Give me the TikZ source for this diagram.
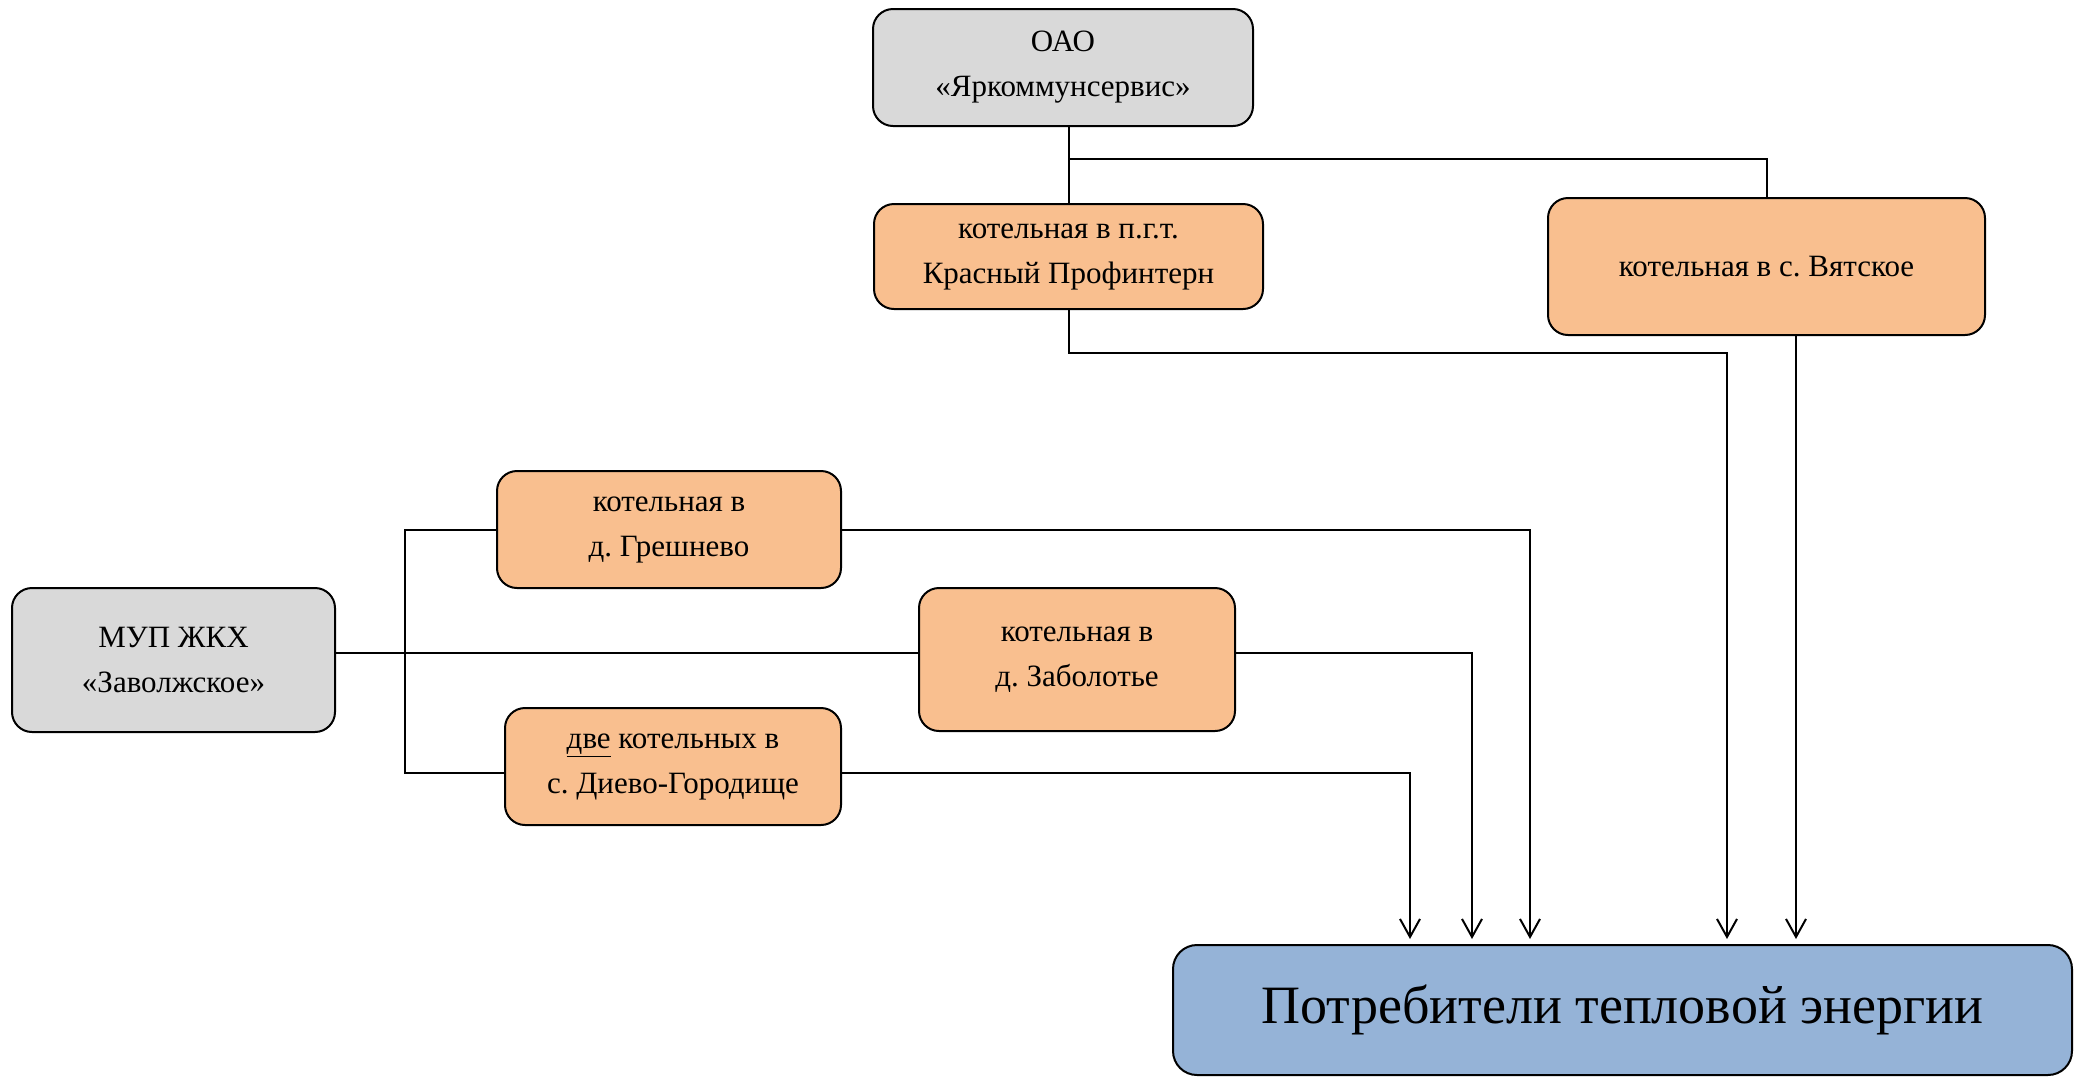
\documentclass[tikz,border=0pt]{standalone}
\usepackage{fontspec}
\setmainfont{Liberation Serif}
\usetikzlibrary{arrows.meta}
\definecolor{grayfill}{HTML}{D9D9D9}
\definecolor{orfill}{HTML}{F9BF8F}
\definecolor{blfill}{HTML}{95B3D7}
\frenchspacing
\begin{document}
\begin{tikzpicture}[x=0.5pt,y=-0.5pt,
  box/.style={draw=black, line width=1pt, rounded corners=10pt, align=center, inner sep=0pt, font=\fontsize{15.5}{22.5}\selectfont},
  org/.style={box, fill=grayfill},
  plant/.style={box, fill=orfill},
  link/.style={draw=black, line width=1pt},
  arr/.style={link, -{Straight Barb[length=9pt,width=10pt,line width=1pt]}, shorten >=2.5pt}]
\useasboundingbox (0,0) rectangle (2085,1078);
\node[org, minimum width=190pt, minimum height=58.5pt] (oao) at (1063,67.5) {ОАО\\«Яркоммунсервис»};
\node[plant, minimum width=194.5pt, minimum height=52.5pt] (kras) at (1068.5,256.5) {котельная в п.г.т.\\Красный Профинтерн};
\node[plant, minimum width=218.5pt, minimum height=68.5pt] (vyat) at (1766.5,266.5) {котельная в с. Вятское};
\node[plant, minimum width=172pt, minimum height=58.5pt] (gresh) at (669,529.5) {котельная в\\д. Грешнево};
\node[plant, minimum width=158pt, minimum height=71.5pt] (zab) at (1077,659.5) {котельная в\\д. Заболотье};
\node[plant, minimum width=168pt, minimum height=58.5pt] (dievo) at (673,766.5) {\underline{две} котельных в\\с. Диево-Городище};
\node[org, minimum width=161.5pt, minimum height=72pt] (mup) at (173.5,660) {МУП ЖКХ\\«Заволжское»};
\node[box, fill=blfill, rounded corners=12pt, minimum width=449.5pt, minimum height=65pt, font=\fontsize{27}{32}\selectfont] (cons) at (1622.5,1010) {Потребители тепловой энергии};
% coordinates
\coordinate (j1) at (1068,159);
\coordinate (kj) at (1727,353);
\coordinate (ag) at (1530,0);
\coordinate (az) at (1472,0);
\coordinate (ad) at (1410,0);
% top tree
\draw[link] (kras.north) -- (kras.north |- oao.south);
\draw[link] (j1) -| (vyat.north);
% left tree
\draw[link] (gresh.west) -- ++(-91,0) |- ([yshift=-3.25pt]dievo.west);
\draw[link] ([yshift=3.5pt]mup.east) -- ([yshift=3.25pt]zab.west);
% arrows to consumers
\draw[arr] (kras.south) |- (kj) -- (kj |- cons.north);
\draw[arr] ([xshift=14.75pt]vyat.south) -- ([xshift=14.75pt]vyat.south |- cons.north);
\draw[arr] (gresh.east) -| (ag |- cons.north);
\draw[arr] ([yshift=3.25pt]zab.east) -| (az |- cons.north);
\draw[arr] ([yshift=-3.25pt]dievo.east) -| (ad |- cons.north);
\end{tikzpicture}
\end{document}
